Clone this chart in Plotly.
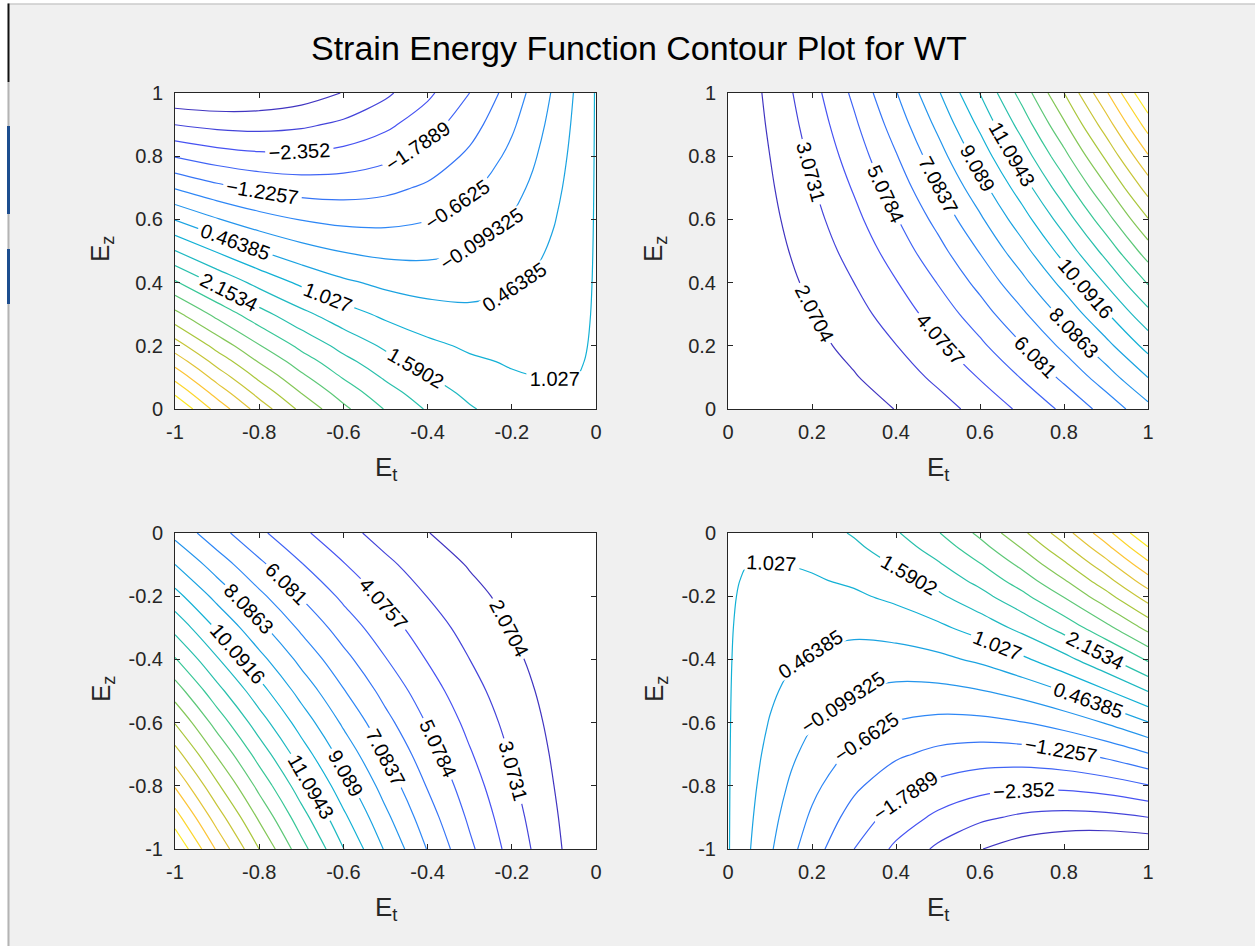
import plotly.graph_objects as go

# ---------------- data ----------------
# Upper-left panel: E_t in [-1, 0], E_z in [0, 1]; rows follow y_tl, columns follow x_tl
x_tl = [-1.0, -0.9, -0.8, -0.7, -0.6, -0.5, -0.4, -0.3, -0.2, -0.15, -0.1, -0.05, 0.0]
y_tl = [0.0, 0.05, 0.1, 0.15, 0.2, 0.3, 0.4, 0.5, 0.6, 0.7, 0.8, 0.9, 1.0]
z_tl = [
    [7.7862, 6.4537, 5.2843, 4.2700, 3.4040, 2.6805, 2.0949, 1.6434, 1.3229, 1.2111, 1.1314, 1.0836, 1.0677],
    [7.1405, 5.8840, 4.7868, 3.8414, 3.0415, 2.3819, 1.8582, 1.4670, 1.2059, 1.1235, 1.0731, 1.0545, 1.0677],
    [6.501, 5.319, 4.293, 3.416, 2.681, 2.085, 1.622, 1.291, 1.089, 1.036, 1.015, 1.025, 1.0677],
    [5.868, 4.760, 3.803, 2.993, 2.323, 1.789, 1.387, 1.116, 0.973, 0.949, 0.957, 0.996, 1.0677],
    [5.241, 4.205, 3.317, 2.573, 1.967, 1.495, 1.153, 0.941, 0.856, 0.861, 0.898, 0.967, 1.0677],
    [4.005, 3.110, 2.357, 1.742, 1.261, 0.910, 0.688, 0.593, 0.624, 0.687, 0.782, 0.909, 1.0677],
    [2.794, 2.034, 1.411, 0.922, 0.563, 0.332, 0.227, 0.247, 0.393, 0.514, 0.666, 0.851, 1.0677],
    [1.606, 0.977, 0.480, 0.113, -0.127, -0.241, -0.231, -0.097, 0.163, 0.341, 0.551, 0.793, 1.0677],
    [0.440, -0.062, -0.436, -0.684, -0.808, -0.809, -0.686, -0.439, -0.066, 0.168, 0.435, 0.735, 1.0677],
    [-0.702, -1.082, -1.338, -1.471, -1.482, -1.371, -1.137, -0.779, -0.294, -0.004, 0.320, 0.677, 1.0677],
    [-1.822, -2.085, -2.226, -2.247, -2.147, -1.927, -1.584, -1.117, -0.522, -0.175, 0.205, 0.619, 1.0677],
    [-2.9209, -3.0700, -3.1004, -3.0124, -2.8053, -2.4779, -2.0280, -1.4527, -0.7482, -0.3461, 0.0901, 0.5611, 1.0677],
    [-3.9981, -4.0379, -3.9611, -3.7674, -3.4556, -3.0235, -2.4684, -1.7867, -0.9738, -0.5166, -0.0245, 0.5033, 1.0677],
]

# Upper-right panel: E_t in [0, 1], E_z in [0, 1]
x_tr = [0.0, 0.1, 0.2, 0.3, 0.4, 0.5, 0.6, 0.7, 0.8, 0.9, 1.0]
y_tr = [0.0, 0.1, 0.2, 0.3, 0.4, 0.5, 0.6, 0.7, 0.8, 0.9, 1.0]
z_tr = [
    [1.068, 1.131, 1.323, 1.643, 2.095, 2.681, 3.404, 4.270, 5.284, 6.454, 7.786],
    [1.068, 1.248, 1.558, 1.998, 2.571, 3.282, 4.135, 5.136, 6.291, 7.608, 9.097],
    [1.068, 1.365, 1.793, 2.354, 3.051, 3.890, 4.875, 6.014, 7.314, 8.783, 10.433],
    [1.068, 1.483, 2.030, 2.712, 3.535, 4.504, 5.624, 6.904, 8.353, 9.979, 11.796],
    [1.068, 1.600, 2.267, 3.073, 4.023, 5.123, 6.382, 7.807, 9.408, 11.197, 13.186],
    [1.068, 1.718, 2.505, 3.436, 4.514, 5.749, 7.148, 8.722, 10.480, 12.436, 14.603],
    [1.068, 1.836, 2.745, 3.800, 5.010, 6.381, 7.924, 9.649, 11.569, 13.697, 16.049],
    [1.068, 1.954, 2.985, 4.167, 5.509, 7.019, 8.709, 10.590, 12.675, 14.980, 17.523],
    [1.068, 2.073, 3.226, 4.536, 6.012, 7.664, 9.503, 11.543, 13.799, 16.287, 19.026],
    [1.068, 2.191, 3.468, 4.908, 6.519, 8.315, 10.306, 12.509, 14.940, 17.616, 20.559],
    [1.068, 2.310, 3.711, 5.281, 7.030, 8.972, 11.120, 13.489, 16.099, 18.969, 22.122],
]

# The lower panels are the point reflections (E_t, E_z) -> (-E_t, -E_z) of the upper ones
x_br = [-v for v in x_tl[::-1]]
y_br = [-v for v in y_tl[::-1]]
z_br = [row[::-1] for row in z_tl[::-1]]
x_bl = [-v for v in x_tr[::-1]]
y_bl = [-v for v in y_tr[::-1]]
z_bl = [row[::-1] for row in z_tr[::-1]]

# contour levels (20 per panel), as labelled in the reference
lev_a_start, lev_a_step = -3.478378, 0.5631755   # upper-left / lower-right
lev_b_start, lev_b_step = 2.0704, 1.002652       # upper-right / lower-left
n_levels = 20

title_text = "Strain Energy Function Contour Plot for WT"
x_title = "E<sub>t</sub>"
y_title = "E<sub>z</sub>"

# ---------------- styling ----------------
FONT = "Liberation Sans, Arial, Helvetica, sans-serif"
AX = "#262626"
PAR = [(0.0, (62, 38, 168)), (1 / 7, (72, 82, 244)), (2 / 7, (46, 135, 247)), (3 / 7, (18, 177, 214)),
       (4 / 7, (55, 200, 151)), (5 / 7, (171, 199, 57)), (6 / 7, (254, 195, 56)), (1.0, (249, 251, 21))]


def parula(t):
    for (t0, c0), (t1, c1) in zip(PAR[:-1], PAR[1:]):
        if t <= t1:
            f = (t - t0) / (t1 - t0)
            return "rgb(%d,%d,%d)" % tuple(round(a + (b - a) * f) for a, b in zip(c0, c1))
    return "rgb(%d,%d,%d)" % PAR[-1][1]


# MATLAB maps levels onto the data range; levels k=1..20 sit at k/21 of the colormap
scale = [[s / 40, parula((1 + (n_levels - 1) * s / 40) / (n_levels + 1))] for s in range(41)]

fig = go.Figure()


def panel(x, y, z, start, size, fmt, n):
    fig.add_trace(go.Contour(
        x=x, y=y, z=z, xaxis="x%d" % n, yaxis="y%d" % n, showscale=False,
        colorscale=scale, hoverinfo="skip",
        contours=dict(coloring="lines", start=start, end=start + (n_levels - 1) * size, size=size,
                      showlabels=True, labelformat=fmt,
                      labelfont=dict(size=20, color="black", family=FONT)),
        line=dict(width=1.2, smoothing=1)))


panel(x_tl, y_tl, z_tl, lev_a_start, lev_a_step, ".5~g", 1)
panel(x_tr, y_tr, z_tr, lev_b_start, lev_b_step, ".4~f", 2)
panel(x_bl, y_bl, z_bl, lev_b_start, lev_b_step, ".4~f", 3)
panel(x_br, y_br, z_br, lev_a_start, lev_a_step, ".5~g", 4)

W, H = 1255, 946
boxes = {1: (175, 596, 93, 409), 2: (728, 1148, 93, 409), 3: (175, 596, 533, 849), 4: (728, 1148, 533, 849)}
ranges = {1: ((-1, 0), (0, 1)), 2: ((0, 1), (0, 1)), 3: ((-1, 0), (-1, 0)), 4: ((0, 1), (-1, 0))}


def ticks(r):
    vals = [round(r[0] + 0.2 * i, 1) for i in range(6)]
    return vals, [("%g" % v) for v in vals]


layout = dict(width=W, height=H, margin=dict(l=0, r=0, t=0, b=0), paper_bgcolor="#f0f0f0",
              plot_bgcolor="white", showlegend=False, font=dict(family=FONT, color=AX))
ann = []
for n, (x0, x1, y0, y1) in boxes.items():
    xr, yr = ranges[n]
    xv, xt = ticks(xr)
    yv, yt = ticks(yr)
    common = dict(showgrid=False, zeroline=False, showline=True, linecolor=AX, linewidth=1,
                  mirror="ticks", ticks="inside", ticklen=5, tickcolor=AX, tickwidth=1,
                  tickfont=dict(size=20, color=AX, family=FONT), automargin=False)
    layout["xaxis%d" % n] = dict(domain=[x0 / W, x1 / W], range=list(xr), anchor="y%d" % n,
                                 tickvals=xv, ticktext=xt, ticklabelstandoff=5, **common)
    layout["yaxis%d" % n] = dict(domain=[1 - y1 / H, 1 - y0 / H], range=list(yr), anchor="x%d" % n,
                                 tickvals=yv, ticktext=yt, ticklabelstandoff=7, **common)
    cx = (x0 + x1) / 2
    ann.append(dict(x=cx / W, y=1 - (y1 + 59) / H, xref="paper", yref="paper", text=x_title,
                    xanchor="center", yanchor="middle", showarrow=False,
                    font=dict(size=26, color=AX, family=FONT)))
    ann.append(dict(x=(x0 - 73) / W, y=1 - ((y0 + y1) / 2 - 2) / H, xref="paper", yref="paper",
                    text=y_title, textangle=-90, xanchor="center", yanchor="middle", showarrow=False,
                    font=dict(size=26, color=AX, family=FONT)))
ann.append(dict(x=639 / W, y=1 - 48 / H, xref="paper", yref="paper", text=title_text,
                xanchor="center", yanchor="middle", showarrow=False,
                font=dict(size=34, color="black", family=FONT)))
layout["annotations"] = ann

# window-edge artefacts of the screenshot (left and top border)
shapes = [
    dict(type="rect", xref="paper", yref="paper", x0=0, x1=1, y0=1 - 3.5 / H, y1=1, fillcolor="white", line_width=0),
    dict(type="rect", xref="paper", yref="paper", x0=7.5 / W, x1=1, y0=1 - 4.5 / H, y1=1 - 3.5 / H, fillcolor="#b8b8b8", line_width=0),
    dict(type="rect", xref="paper", yref="paper", x0=0, x1=7.5 / W, y0=0, y1=1, fillcolor="white", line_width=0),
    dict(type="rect", xref="paper", yref="paper", x0=7.5 / W, x1=9.5 / W, y0=0, y1=1 - 82 / H, fillcolor="#b4b4b4", line_width=0),
    dict(type="rect", xref="paper", yref="paper", x0=7.5 / W, x1=9.5 / W, y0=1 - 82 / H, y1=1 - 3.5 / H, fillcolor="#111111", line_width=0),
    dict(type="rect", xref="paper", yref="paper", x0=7 / W, x1=10 / W, y0=1 - 214 / H, y1=1 - 126 / H, fillcolor="#1d4e8f", line_width=0),
    dict(type="rect", xref="paper", yref="paper", x0=7 / W, x1=10 / W, y0=1 - 304 / H, y1=1 - 249 / H, fillcolor="#1d4e8f", line_width=0),
]
layout["shapes"] = shapes
fig.update_layout(**layout)
fig.write_html("out.html", config={"displayModeBar": False},
               post_script="document.body.style.margin='0';document.body.style.overflow='hidden';")
